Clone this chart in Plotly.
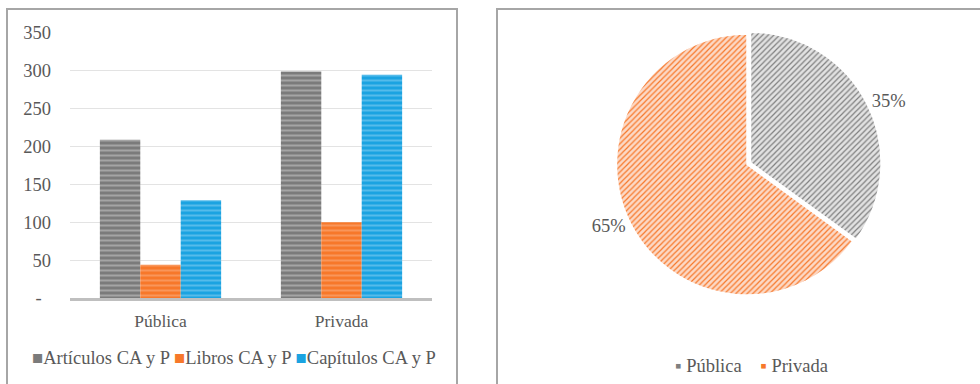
import plotly.graph_objects as go

categories = ["Pública", "Privada"]
series_names = ["Artículos CA y P", "Libros CA y P", "Capítulos CA y P"]
articulos = [209, 299]
libros = [44, 100]
capitulos = [129, 295]
series_values = [articulos, libros, capitulos]
bar_colors = ["#7b7b7b", "#f7782a", "#1ba3e1"]
stripe_colors = ["#cfcfcf", "#fbb48a", "#8fd3f3"]

pie_labels = ["Pública", "Privada"]
pie_values = [35, 65]
pie_bg = ["#e2e2e2", "#fcd9c6"]
pie_fg = ["#7f7f7f", "#f7782a"]

y_ticks = [0, 50, 100, 150, 200, 250, 300, 350]
y_ticktext = ["-\u2007", "50", "100", "150", "200", "250", "300", "350"]

W, H = 980, 384
FONT = "Liberation Serif"
TXT = "#595959"
FS = 17.5
FS_BIG = 18.5


def px(x):
    return x / W


def py(y):
    return 1 - y / H


fig = go.Figure()
for name, vals, c, sc in zip(series_names, series_values, bar_colors, stripe_colors):
    fig.add_trace(go.Bar(
        x=categories, y=vals, name=name, showlegend=False,
        marker=dict(color=c, line=dict(width=0),
                    pattern=dict(shape="-", fgcolor=sc, bgcolor=c, size=5, solidity=0.4)),
    ))

fig.add_trace(go.Pie(
    labels=pie_labels, values=pie_values, sort=False, direction="clockwise", rotation=0,
    pull=[0.03, 0], showlegend=False,
    marker=dict(colors=pie_bg, line=dict(color="white", width=1.5),
                pattern=dict(shape="/", fgcolor=pie_fg, bgcolor=pie_bg, size=4, solidity=0.3)),
    textinfo="percent", textposition="outside",
    textfont=dict(family=FONT, size=FS_BIG, color=TXT),
    domain=dict(x=[px(747 - 230), px(747 + 230)], y=[py(299), py(30)]),
))

# legends as text with coloured markers
bar_legend = " ".join(
    f"<span style='color:{c}'>■</span>{n}" for n, c in zip(series_names, bar_colors)
)
pie_legend = "\u00a0\u00a0\u00a0\u00a0".join(
    f"<span style='color:{c}'>▪</span>\u00a0{n}" for n, c in zip(pie_labels, pie_fg)
)

fig.update_layout(
    width=W, height=H, margin=dict(l=0, r=0, t=0, b=0, autoexpand=False),
    paper_bgcolor="white", plot_bgcolor="white",
    font=dict(family=FONT, size=FS, color=TXT),
    barmode="group", bargap=0.33, bargroupgap=0,
    xaxis=dict(domain=[px(70), px(432)], showgrid=False, ticks="", showline=True,
               linecolor="#bfbfbf", linewidth=2.5, ticklabelstandoff=5, automargin=False,
               tickfont=dict(size=FS)),
    yaxis=dict(domain=[py(298), py(33)], range=[0, 350], tickvals=y_ticks, ticktext=y_ticktext,
               showgrid=True, gridcolor="#e3e3e3", gridwidth=1, zeroline=False, ticks="",
               ticklabelstandoff=18, automargin=False, tickfont=dict(size=FS_BIG)),
    annotations=[
        dict(text=bar_legend, xref="paper", yref="paper", x=px(234), y=py(358),
             xanchor="center", yanchor="middle", showarrow=False,
             font=dict(family=FONT, size=FS_BIG, color=TXT)),
        dict(text=pie_legend, xref="paper", yref="paper", x=px(751), y=py(366),
             xanchor="center", yanchor="middle", showarrow=False,
             font=dict(family=FONT, size=FS_BIG, color=TXT)),
    ],
    shapes=[
        dict(type="rect", xref="paper", yref="paper", x0=px(7), x1=px(457), y0=py(400), y1=py(9),
             line=dict(color="#a6a6a6", width=2)),
        dict(type="rect", xref="paper", yref="paper", x0=px(497), x1=px(1000), y0=py(400), y1=py(9),
             line=dict(color="#a6a6a6", width=2)),
    ],
)

fig.write_html("out.html", post_script="document.body.style.margin='0';")
